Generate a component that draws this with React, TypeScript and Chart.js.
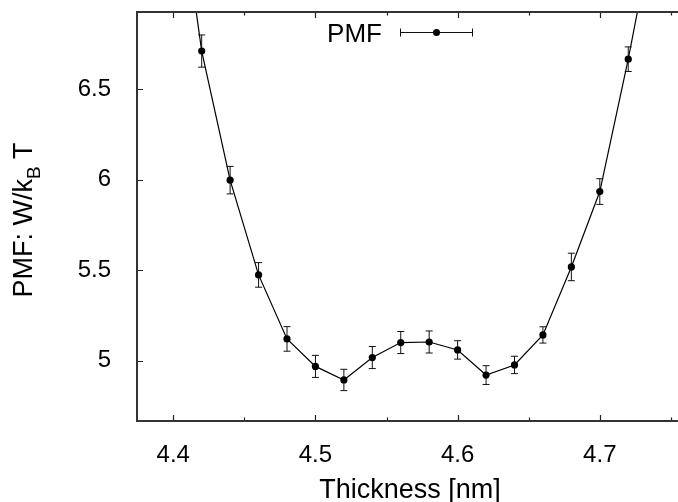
import React, { useEffect, useRef } from 'react';
import { Chart, registerables } from 'chart.js';

Chart.register(...registerables);

// ---- data ----
const thickness = [4.40, 4.42, 4.44, 4.46, 4.48, 4.50, 4.52, 4.54, 4.56, 4.58, 4.60, 4.62, 4.64, 4.66, 4.68, 4.70, 4.72, 4.74];
const pmf = [7.84, 6.712, 5.998, 5.474, 5.12, 4.968, 4.893, 5.017, 5.100, 5.103, 5.059, 4.920, 4.976, 5.142, 5.518, 5.935, 6.667, 7.48];
const pmfError = [0.09, 0.089, 0.076, 0.068, 0.068, 0.061, 0.059, 0.061, 0.061, 0.061, 0.051, 0.052, 0.048, 0.045, 0.076, 0.071, 0.068, 0.07];
const xMajorTicks = [4.4, 4.5, 4.6, 4.7];
const xMinorTicks = [4.45, 4.55, 4.65, 4.75];
const yMajorTicks = [5, 5.5, 6, 6.5];
const xRange = [4.3745, 4.755];
const yRange = [4.666, 6.928];
const legendLabel = 'PMF';
const xTitle = 'Thickness [nm]';
const yTitleMain = 'PMF: W/k';
const yTitleSub = 'B';
const yTitleEnd = ' T';

const FONT = '"Liberation Sans", Arial, Helvetica, sans-serif';

const errorBarPlugin = {
  id: 'errorBars',
  beforeDatasetsDraw(chart: any) {
    const { ctx, chartArea } = chart;
    const xs = chart.scales.x;
    const ys = chart.scales.y;
    ctx.save();
    ctx.beginPath();
    ctx.rect(chartArea.left, chartArea.top, chartArea.right - chartArea.left, chartArea.bottom - chartArea.top);
    ctx.clip();
    ctx.strokeStyle = '#111';
    ctx.lineWidth = 1;
    const cap = 3.5;
    for (let i = 0; i < thickness.length; i++) {
      const x = xs.getPixelForValue(thickness[i]);
      const y1 = ys.getPixelForValue(pmf[i] + pmfError[i]);
      const y2 = ys.getPixelForValue(pmf[i] - pmfError[i]);
      ctx.beginPath();
      ctx.moveTo(x, y1);
      ctx.lineTo(x, y2);
      ctx.moveTo(x - cap, y1);
      ctx.lineTo(x + cap, y1);
      ctx.moveTo(x - cap, y2);
      ctx.lineTo(x + cap, y2);
      ctx.stroke();
    }
    ctx.restore();
  },
};

const framePlugin = {
  id: 'frame',
  afterDraw(chart: any) {
    const { ctx, chartArea } = chart;
    const { left, right, top, bottom } = chartArea;
    const xs = chart.scales.x;
    const ys = chart.scales.y;
    ctx.save();
    // ticks
    ctx.strokeStyle = '#222';
    ctx.lineWidth = 1.2;
    ctx.beginPath();
    const major = 6;
    const minor = 3.5;
    xMajorTicks.forEach((v) => {
      const x = Math.round(xs.getPixelForValue(v)) + 0.5;
      ctx.moveTo(x, bottom);
      ctx.lineTo(x, bottom - major);
      ctx.moveTo(x, top);
      ctx.lineTo(x, top + major);
    });
    xMinorTicks.forEach((v) => {
      const x = Math.round(xs.getPixelForValue(v)) + 0.5;
      ctx.moveTo(x, bottom);
      ctx.lineTo(x, bottom - minor);
      ctx.moveTo(x, top);
      ctx.lineTo(x, top + minor);
    });
    yMajorTicks.forEach((v) => {
      const y = Math.round(ys.getPixelForValue(v)) + 0.5;
      ctx.moveTo(left, y);
      ctx.lineTo(left + major, y);
    });
    ctx.stroke();
    // frame (left, top, bottom; right edge lies outside the picture)
    ctx.strokeStyle = '#333';
    ctx.lineWidth = 2;
    ctx.beginPath();
    ctx.moveTo(right + 2, top);
    ctx.lineTo(left, top);
    ctx.lineTo(left, bottom);
    ctx.lineTo(right + 2, bottom);
    ctx.stroke();

    // legend
    ctx.fillStyle = '#000';
    ctx.font = `26px ${FONT}`;
    ctx.textAlign = 'right';
    ctx.textBaseline = 'alphabetic';
    ctx.fillText(legendLabel, 382, 41.5);
    const ly = 32.5;
    const lx1 = 400.5;
    const lx2 = 472.5;
    const lxm = 436.5;
    ctx.strokeStyle = '#111';
    ctx.lineWidth = 1;
    ctx.beginPath();
    ctx.moveTo(lx1, ly);
    ctx.lineTo(lx2, ly);
    ctx.moveTo(lx1, ly - 4);
    ctx.lineTo(lx1, ly + 4);
    ctx.moveTo(lx2, ly - 4);
    ctx.lineTo(lx2, ly + 4);
    ctx.stroke();
    ctx.beginPath();
    ctx.arc(lxm, ly, 3.5, 0, Math.PI * 2);
    ctx.fill();

    // x title
    ctx.font = `27px ${FONT}`;
    ctx.textAlign = 'center';
    ctx.fillText(xTitle, 410, 498);

    // y title (rotated, with subscript)
    ctx.save();
    ctx.translate(31.5, 220);
    ctx.rotate(-Math.PI / 2);
    const mainFont = `27px ${FONT}`;
    const subFont = `19px ${FONT}`;
    ctx.font = mainFont;
    const w1 = ctx.measureText(yTitleMain).width;
    const w3 = ctx.measureText(yTitleEnd).width;
    ctx.font = subFont;
    const w2 = ctx.measureText(yTitleSub).width;
    const total = w1 + w2 + w3;
    let cx = -total / 2;
    ctx.textAlign = 'left';
    ctx.font = mainFont;
    ctx.fillText(yTitleMain, cx, 0);
    cx += w1;
    ctx.font = subFont;
    ctx.fillText(yTitleSub, cx, 8);
    cx += w2;
    ctx.font = mainFont;
    ctx.fillText(yTitleEnd, cx, 0);
    ctx.restore();

    ctx.restore();
  },
};

function zeroPad(scale: any) {
  scale.paddingTop = 0;
  scale.paddingBottom = 0;
  scale.paddingLeft = 0;
  scale.paddingRight = 0;
}

export default function App() {
  const canvasRef = useRef<HTMLCanvasElement | null>(null);

  useEffect(() => {
    const canvas = canvasRef.current;
    if (!canvas) return;
    const data = thickness.map((x, i) => ({ x, y: pmf[i] }));
    const chart = new Chart(canvas, {
      type: 'line',
      data: {
        datasets: [
          {
            label: legendLabel,
            data,
            borderColor: '#000',
            borderWidth: 1.2,
            tension: 0,
            pointRadius: 3.6,
            pointHoverRadius: 3.6,
            pointBackgroundColor: '#000',
            pointBorderWidth: 0,
            fill: false,
          },
        ],
      },
      options: {
        responsive: false,
        animation: false,
        events: [],
        layout: { autoPadding: false, padding: { top: 12, left: 0, right: 0, bottom: 0 } },
        plugins: {
          legend: { display: false },
          tooltip: { enabled: false },
          title: { display: false },
        },
        scales: {
          x: {
            type: 'linear',
            min: xRange[0],
            max: xRange[1],
            grid: { display: false },
            border: { display: false },
            afterBuildTicks: (scale: any) => {
              scale.ticks = [...xMajorTicks, ...xMinorTicks].sort((a, b) => a - b).map((v) => ({ value: v }));
            },
            afterFit: (scale: any) => {
              scale.height = 81;
              zeroPad(scale);
            },
            ticks: {
              autoSkip: false,
              maxRotation: 0,
              minRotation: 0,
              padding: 12,
              color: '#000',
              font: { family: FONT, size: 24 },
              callback: (v: any) => (xMajorTicks.some((t) => Math.abs(t - v) < 1e-9) ? String(v) : ''),
            },
          },
          y: {
            type: 'linear',
            min: yRange[0],
            max: yRange[1],
            grid: { display: false },
            border: { display: false },
            afterBuildTicks: (scale: any) => {
              scale.ticks = yMajorTicks.map((v) => ({ value: v }));
            },
            afterFit: (scale: any) => {
              scale.width = 137;
              zeroPad(scale);
            },
            ticks: {
              autoSkip: false,
              padding: 18,
              color: '#000',
              font: { family: FONT, size: 24 },
              callback: (v: any) => String(v),
            },
          },
        },
      },
      plugins: [errorBarPlugin, framePlugin],
    });
    return () => chart.destroy();
  }, []);

  return (
    <div style={{ position: 'absolute', left: 0, top: 0, width: 678, height: 502, background: '#fff' }}>
      <canvas ref={canvasRef} width={678} height={502} style={{ display: 'block' }} />
    </div>
  );
}
